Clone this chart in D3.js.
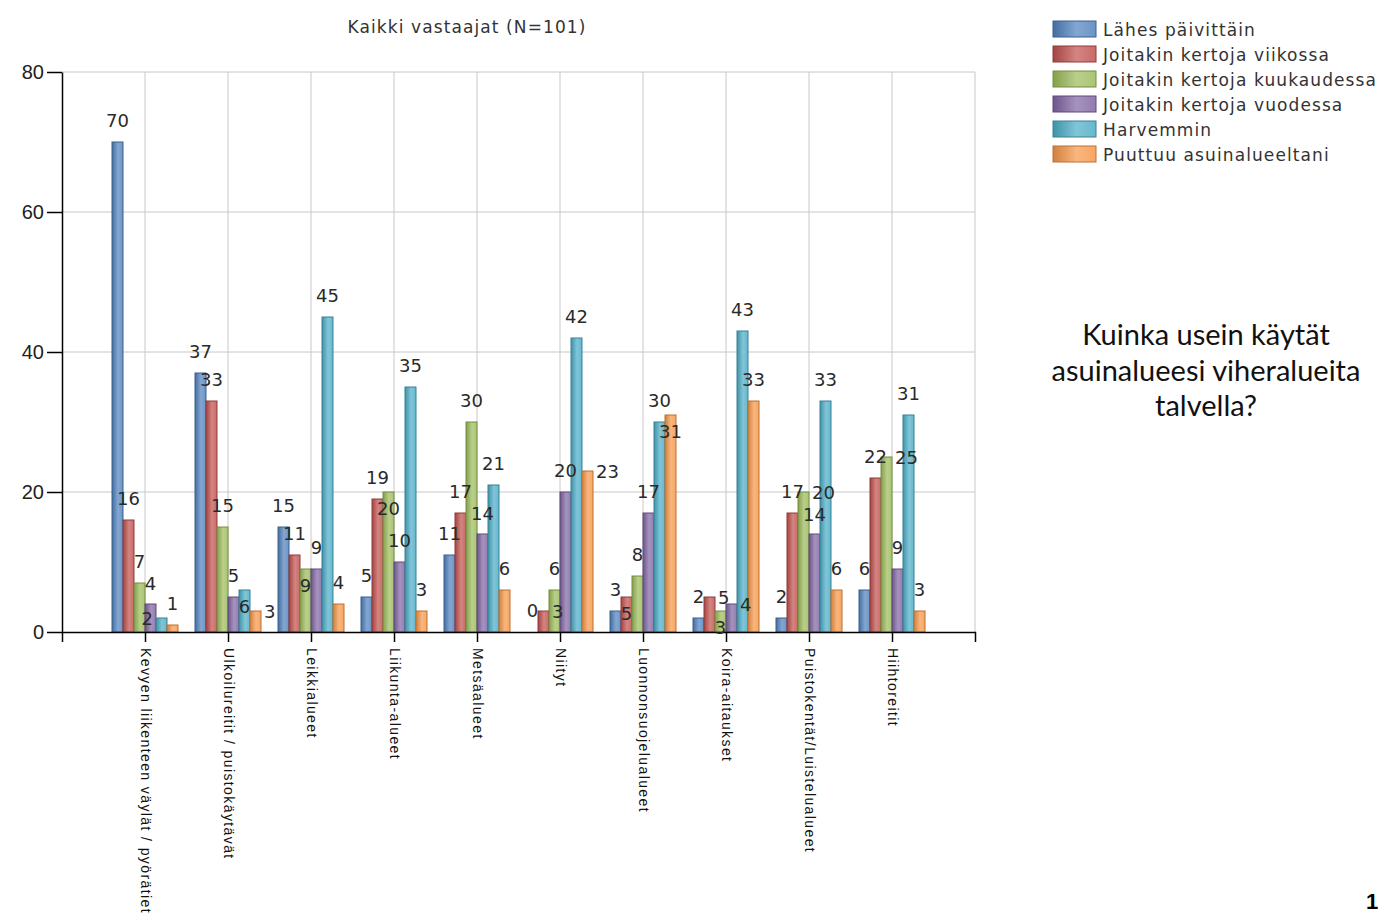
<!DOCTYPE html>
<html>
<head>
<meta charset="utf-8">
<script src="https://cdn.jsdelivr.net/npm/d3@7"></script>
<style>
  html, body { margin: 0; padding: 0; background: #fff; }
  svg { display: block; }
</style>
</head>
<body>
<svg id="chart" width="1387" height="917"></svg>
<script>
// ---------- data ----------
const categories = [
  "Kevyen liikenteen väylät / pyörätiet",
  "Ulkoilureitit / puistokäytävät",
  "Leikkialueet",
  "Liikunta-alueet",
  "Metsäalueet",
  "Niityt",
  "Luonnonsuojelualueet",
  "Koira-aitaukset",
  "Puistokentät/Luistelualueet",
  "Hiihtoreitit"
];
const seriesNames = [
  "Lähes päivittäin",
  "Joitakin kertoja viikossa",
  "Joitakin kertoja kuukaudessa",
  "Joitakin kertoja vuodessa",
  "Harvemmin",
  "Puuttuu asuinalueeltani"
];
const lahesPaivittain = [70, 37, 15, 5, 11, 0, 3, 2, 2, 6];
const kertojaViikossa = [16, 33, 11, 19, 17, 3, 5, 5, 17, 22];
const kertojaKuukaudessa = [7, 15, 9, 20, 30, 6, 8, 3, 20, 25];
const kertojaVuodessa = [4, 5, 9, 10, 14, 20, 17, 4, 14, 9];
const harvemmin = [2, 6, 45, 35, 21, 42, 30, 43, 33, 31];
const puuttuu = [1, 3, 4, 3, 6, 23, 31, 33, 6, 3];
const seriesValues = [lahesPaivittain, kertojaViikossa, kertojaKuukaudessa, kertojaVuodessa, harvemmin, puuttuu];
const seriesColors = ["#4f81bd", "#c0504d", "#9bbb59", "#8064a2", "#4bacc6", "#f79646"];
const yTicks = [0, 20, 40, 60, 80];
const chartTitle = "Kaikki vastaajat (N=101)";
const questionLines = ["Kuinka usein käytät", "asuinalueesi viheralueita", "talvella?"];
const pageNumber = "1";

// ---------- layout ----------
const svg = d3.select("#chart");
const plot = { left: 62, right: 975, top: 72, bottom: 632 };

const x = d3.scalePoint().domain(categories).range([plot.left, plot.right]).padding(1);
const xs = d3.scaleBand().domain(seriesNames).range([-33, 33]);
const y = d3.scaleLinear().domain([0, 80]).range([plot.bottom, plot.top]);

// gradients
const defs = svg.append("defs");
seriesColors.forEach((c, i) => {
  const g = defs.append("linearGradient").attr("id", "grad" + i)
    .attr("x1", "0%").attr("x2", "100%").attr("y1", "0%").attr("y2", "0%");
  g.append("stop").attr("offset", "0%").attr("stop-color", d3.color(c).darker(0.45));
  g.append("stop").attr("offset", "55%").attr("stop-color", d3.interpolateRgb(c, "#ffffff")(0.3));
  g.append("stop").attr("offset", "100%").attr("stop-color", d3.interpolateRgb(c, "#ffffff")(0.15));
});

// gridlines
const grid = svg.append("g");
grid.selectAll("line.h").data(yTicks.filter(t => t > 0)).join("line")
  .attr("x1", plot.left).attr("x2", plot.right)
  .attr("y1", d => y(d)).attr("y2", d => y(d))
  .attr("stroke", "#c8c8c8").attr("stroke-width", 1);
grid.selectAll("line.v").data(categories).join("line")
  .attr("x1", d => x(d)).attr("x2", d => x(d))
  .attr("y1", plot.top).attr("y2", plot.bottom)
  .attr("stroke", "#c8c8c8").attr("stroke-width", 1);
grid.append("line")
  .attr("x1", plot.right).attr("x2", plot.right)
  .attr("y1", plot.top).attr("y2", plot.bottom)
  .attr("stroke", "#c8c8c8").attr("stroke-width", 1);

// bars
const barData = [];
categories.forEach((cat, ci) => {
  seriesNames.forEach((s, si) => {
    barData.push({ cat, ci, s, si, v: seriesValues[si][ci] });
  });
});
const bw = xs.bandwidth();
svg.append("g").selectAll("rect").data(barData.filter(d => d.v > 0)).join("rect")
  .attr("x", d => x(d.cat) + xs(d.s))
  .attr("y", d => y(d.v))
  .attr("width", bw)
  .attr("height", d => y(0) - y(d.v))
  .attr("fill", d => `url(#grad${d.si})`)
  .attr("stroke", d => d3.color(seriesColors[d.si]).darker(0.8))
  .attr("stroke-width", 1);

// axes
const yAxis = svg.append("g").attr("transform", `translate(${plot.left},0)`)
  .call(d3.axisLeft(y).tickValues(yTicks).tickSize(15).tickSizeOuter(0).tickPadding(3));
yAxis.selectAll("path, line").attr("stroke", "#000").attr("stroke-width", 1.5);
yAxis.selectAll("text").attr("font-family", "'Liberation Sans', Arial, sans-serif")
  .attr("font-size", 20).attr("fill", "#222");

const xAxis = svg.append("g").attr("transform", `translate(0,${plot.bottom})`)
  .call(d3.axisBottom(x).tickSize(10).tickSizeOuter(10).tickFormat(""));
xAxis.selectAll("path, line").attr("stroke", "#000").attr("stroke-width", 1.5);
xAxis.selectAll(".tick").append("text")
  .attr("transform", "translate(0,16) rotate(90)")
  .attr("text-anchor", "start")
  .attr("dy", "0.35em")
  .attr("font-family", "'Liberation Sans', Arial, sans-serif")
  .attr("font-size", 14)
  .attr("letter-spacing", "1.4px")
  .attr("fill", "#111")
  .text(d => d);

// value labels with simple collision avoidance
const labelG = svg.append("g")
  .attr("font-family", "'DejaVu Sans', Verdana, sans-serif")
  .attr("font-size", 18).attr("fill", "#2a2a2a").attr("text-anchor", "middle");
const placed = [];
const hh = 11;
function overlaps(b) {
  return placed.some(p => b.x0 < p.x1 && b.x1 > p.x0 && b.y0 < p.y1 && b.y1 > p.y0);
}
function box(cx, cy, hw) { return { cx, cy, x0: cx - hw, x1: cx + hw, y0: cy - hh, y1: cy + hh }; }
barData.forEach(d => {
  const t = labelG.append("text").text(d.v);
  const tw = t.node().getComputedTextLength();
  const hw = tw / 2 + 2;
  const cx = x(d.cat) + xs(d.s) + bw / 2;
  const top = y(d.v);
  const h = y(0) - top;
  const cands = [];
  for (let dd = 22; dd >= 15; dd--) cands.push(box(cx, top - dd, hw));
  if (h >= 20) cands.push(box(cx, top + 16, hw));
  cands.push(box(cx - bw / 2 - hw - 1, top, hw));
  cands.push(box(cx + bw / 2 + hw + 1, top, hw));
  let chosen = cands.find(b => !overlaps(b)) || cands[0];
  placed.push(chosen);
  t.attr("x", chosen.cx).attr("y", chosen.cy + 6.5);
});

// title
svg.append("text").attr("x", 467).attr("y", 33).attr("text-anchor", "middle")
  .attr("font-family", "'DejaVu Sans', Verdana, sans-serif").attr("font-size", 17)
  .attr("letter-spacing", "1.1px").attr("fill", "#333").text(chartTitle);

// legend
const legend = svg.append("g");
seriesNames.forEach((s, i) => {
  const yy = 29 + i * 25;
  legend.append("rect").attr("x", 1053).attr("y", yy - 8).attr("width", 43).attr("height", 16)
    .attr("fill", `url(#grad${i})`).attr("stroke", d3.color(seriesColors[i]).darker(0.8));
  legend.append("text").attr("x", 1103).attr("y", yy + 7)
    .attr("font-family", "'DejaVu Sans', Verdana, sans-serif").attr("font-size", 17)
    .attr("letter-spacing", "1.1px").attr("fill", "#333").text(s);
});

// question text
svg.append("g").selectAll("text").data(questionLines).join("text")
  .attr("x", 1206).attr("y", (d, i) => 345 + i * 35.5)
  .attr("text-anchor", "middle")
  .attr("font-family", "Lato, 'Open Sans', sans-serif").attr("font-size", 29)
  .attr("fill", "#111").text(d => d);

// page number
svg.append("text").attr("x", 1366).attr("y", 909)
  .attr("font-family", "'Liberation Sans', Arial, sans-serif").attr("font-weight", "bold")
  .attr("font-size", 22).attr("fill", "#000").text(pageNumber);
</script>
</body>
</html>
